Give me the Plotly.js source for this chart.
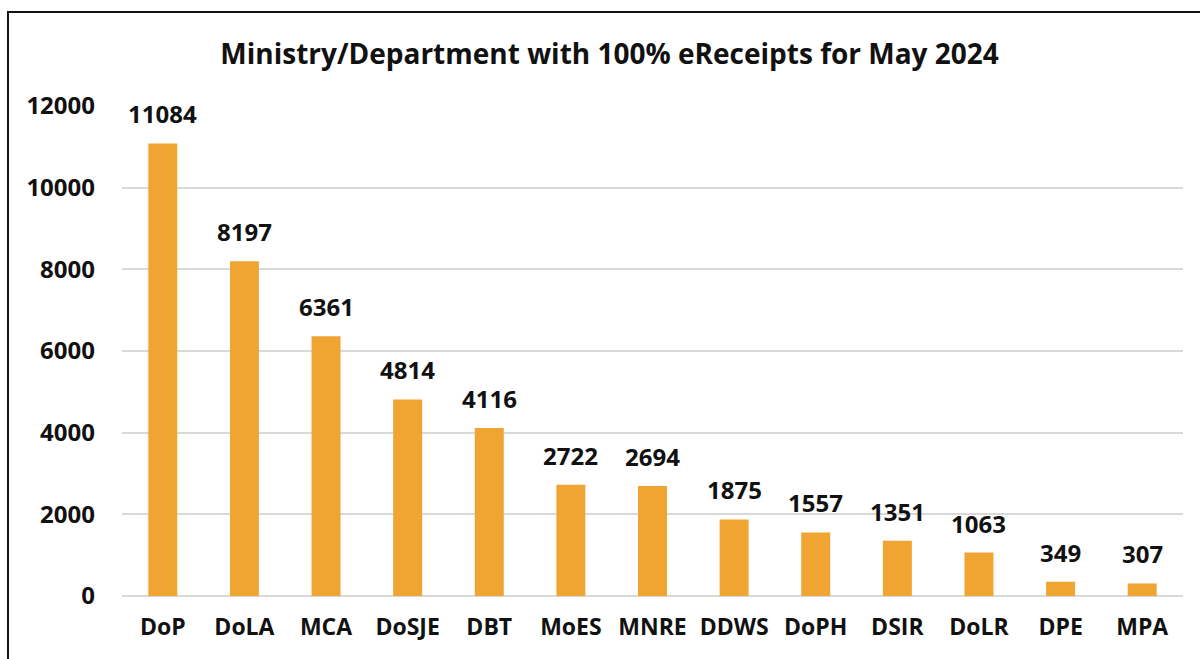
<!DOCTYPE html>
<html><head><meta charset="utf-8">
<script src="https://cdn.plot.ly/plotly-3.0.1.min.js"></script>
<style>
html,body{margin:0;padding:0;background:#fff;}
#wrap{position:relative;width:1200px;height:659px;}
#chart{position:absolute;left:0;top:0;width:1200px;height:659px;}
#frame{position:absolute;left:7px;top:11px;width:1200px;height:660px;border-left:2px solid #111;border-top:2px solid #111;pointer-events:none;}
</style></head>
<body>
<div id="wrap"><div id="chart"></div><div id="frame"></div></div>
<script>
const categories = ["DoP","DoLA","MCA","DoSJE","DBT","MoES","MNRE","DDWS","DoPH","DSIR","DoLR","DPE","MPA"];
const receipts = [11084,8197,6361,4814,4116,2722,2694,1875,1557,1351,1063,349,307];
const yTicks = [0,2000,4000,6000,8000,10000,12000];

const FONT = "Open Sans, Noto Sans, sans-serif";
const barColor = "#F0A432";

const trace = {
  type: "bar",
  x: categories,
  y: receipts,
  marker: {color: barColor},
  hoverinfo: "x+y"
};

const annotations = categories.map((c, i) => ({
  x: c, y: receipts[i], xref: "x", yref: "y",
  text: "<b>" + receipts[i] + "</b>",
  showarrow: false, yanchor: "bottom", yshift: 11,
  font: {family: FONT, size: 24, color: "#111"}
}));

const layout = {
  width: 1200, height: 659,
  margin: {l: 122, r: 17, t: 106, b: 63},
  paper_bgcolor: "#fff", plot_bgcolor: "#fff",
  bargap: 0.645,
  showlegend: false,
  title: {
    text: "<b>Ministry/Department with 100% eReceipts for May 2024</b>",
    x: 0.508, xanchor: "center", y: 0.918, yanchor: "middle",
    font: {family: FONT, size: 28, color: "#111"}
  },
  xaxis: {
    showgrid: false, showline: false, ticks: "",
    tickfont: {family: FONT, size: 23, color: "#111", weight: "bold"},
    ticklabelstandoff: 15
  },
  yaxis: {
    range: [0, 12000], tickvals: yTicks, ticktext: yTicks.map(String),
    showgrid: true, gridcolor: "#d9d9d9", gridwidth: 2,
    zeroline: true, zerolinecolor: "#d9d9d9", zerolinewidth: 2,
    showline: false, ticks: "",
    tickfont: {family: FONT, size: 24, color: "#111", weight: "bold"},
    ticklabelstandoff: 26
  },
  annotations: annotations
};

Plotly.newPlot("chart", [trace], layout, {displayModeBar: false, staticPlot: true});
</script>
</body></html>
